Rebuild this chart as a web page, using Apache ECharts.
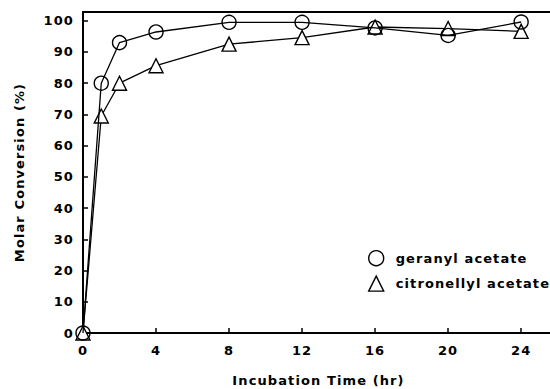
<!DOCTYPE html>
<html>
<head>
<meta charset="utf-8">
<script src="https://cdn.jsdelivr.net/npm/echarts@6/dist/echarts.min.js"></script>
<style>
  html, body { margin: 0; padding: 0; background: #fff; }
  #chart { width: 550px; height: 389px; }
  #chart svg text { letter-spacing: 1.1px; }
</style>
</head>
<body>
<div id="chart"></div>
<script>
// incubation time (hr)
const hours = [0, 1, 2, 4, 8, 12, 16, 20, 24];
// molar conversion (%)
const geranyl = [0, 80, 93, 96.4, 99.5, 99.5, 97.7, 95.3, 99.6];
const citronellyl = [0, 69.5, 80, 85.6, 92.5, 94.6, 98, 97.5, 96.6];
const xTicks = [0, 4, 8, 12, 16, 20, 24];
const yTicks = [0, 10, 20, 30, 40, 50, 60, 70, 80, 90, 100];

const font = 'DejaVu Sans';
const txt = { fontFamily: font, fontSize: 13, fontWeight: 'bold', color: '#000' };
const pairs = (ys) => hours.map((h, i) => [h, ys[i]]);

// svg so the css letter-spacing reaches the labels
const chart = echarts.init(document.getElementById('chart'), null, { renderer: 'svg' });

const symStyle = { color: '#fff', borderColor: '#000', borderWidth: 1.4 };

chart.setOption({
  animation: false,
  backgroundColor: '#fff',
  grid: { left: 83, right: -4, top: 12, bottom: 56, outerBoundsMode: 'none' },
  xAxis: [
    {
      type: 'value',
      min: 0,
      max: 25.8,
      name: 'Incubation Time (hr)',
      nameLocation: 'middle',
      nameGap: 41,
      nameTextStyle: txt,
      axisLine: { lineStyle: { color: '#000', width: 2 } },
      axisTick: { inside: true, length: 5, lineStyle: { color: '#000', width: 1.5 }, customValues: xTicks },
      axisLabel: Object.assign({ customValues: xTicks, margin: 11 }, txt),
      splitLine: { show: false }
    },
    {
      type: 'value',
      position: 'top',
      min: 0,
      max: 25.8,
      axisLine: { lineStyle: { color: '#000', width: 2 } },
      axisTick: { show: false },
      axisLabel: { show: false },
      splitLine: { show: false }
    }
  ],
  yAxis: {
    type: 'value',
    min: 0,
    max: 102.8,
    name: 'Molar Conversion (%)',
    nameLocation: 'middle',
    nameGap: 57,
    nameTextStyle: txt,
    axisLine: { show: true, lineStyle: { color: '#000', width: 2 } },
    axisTick: { inside: true, length: 5, lineStyle: { color: '#000', width: 1.5 }, customValues: yTicks },
    axisLabel: Object.assign({ customValues: yTicks, margin: 9 }, txt),
    splitLine: { show: false }
  },
  legend: {
    orient: 'vertical',
    left: 363,
    top: 245,
    itemWidth: 15,
    itemHeight: 15,
    itemGap: 9,
    textStyle: Object.assign({ padding: [0, 0, 0, 7] }, txt),
    data: [
      { name: 'geranyl acetate', icon: 'circle', itemStyle: symStyle },
      { name: 'citronellyl acetate', icon: 'triangle', itemStyle: symStyle }
    ]
  },
  series: [
    {
      name: 'citronellyl acetate',
      type: 'line',
      data: pairs(citronellyl),
      symbol: 'triangle',
      symbolSize: 14,
      showAllSymbol: true,
      lineStyle: { color: '#000', width: 1.3 },
      itemStyle: symStyle,
      z: 3
    },
    {
      name: 'geranyl acetate',
      type: 'line',
      data: pairs(geranyl),
      symbol: 'circle',
      symbolSize: 14,
      showAllSymbol: true,
      lineStyle: { color: '#000', width: 1.3 },
      itemStyle: { color: 'rgba(255,255,255,0)', borderColor: '#000', borderWidth: 1.4 },
      z: 4
    }
  ]
});
</script>
</body>
</html>
